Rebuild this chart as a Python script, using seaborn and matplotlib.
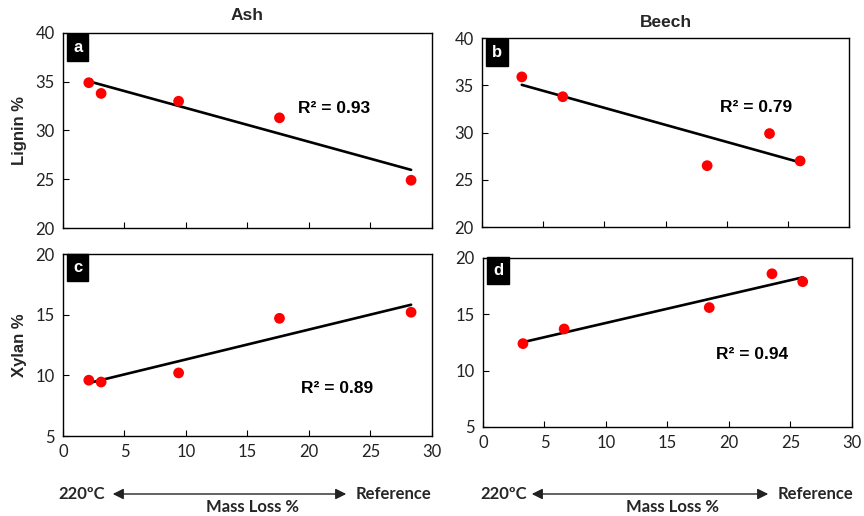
import numpy as np
import pandas as pd
import matplotlib
matplotlib.use("Agg")
import matplotlib.pyplot as plt
import seaborn as sns

# ---- data ----
ash_mass_loss = [2.1, 3.1, 9.4, 17.6, 28.3]
ash_lignin = [34.9, 33.8, 33.0, 31.3, 24.9]
ash_xylan = [9.6, 9.45, 10.2, 14.7, 15.2]

beech_mass_loss = [3.25, 6.6, 18.4, 23.5, 26.0]
beech_lignin = [35.9, 33.8, 26.5, 29.9, 27.0]
beech_xylan = [12.4, 13.7, 15.6, 18.6, 17.9]

r2_labels = {"a": "R² = 0.93", "b": "R² = 0.79", "c": "R² = 0.89", "d": "R² = 0.94"}
col_titles = ["Ash", "Beech"]
row_labels = ["Lignin %", "Xylan %"]

sns.set_theme(style="white")
plt.rcParams['font.family'] = ['Liberation Sans', 'DejaVu Sans']

fig = plt.figure(figsize=(8.64, 5.16), dpi=100)

positions = {
    "a": [0.0729, 0.5581, 0.4271, 0.378],
    "b": [0.5579, 0.5600, 0.4248, 0.366],
    "c": [0.0729, 0.1550, 0.4271, 0.3527],
    "d": [0.5590, 0.1725, 0.4270, 0.3275],
}
panels = {
    "a": (ash_mass_loss, ash_lignin, (20, 40), (22.0, 32.3)),
    "b": (beech_mass_loss, beech_lignin, (20, 40), (22.4, 32.7)),
    "c": (ash_mass_loss, ash_xylan, (5, 20), (22.3, 8.9)),
    "d": (beech_mass_loss, beech_xylan, (5, 20), (21.9, 11.4)),
}

tick_font = 'Lato'
axes = {}
for key, (xv, yv, ylim, r2pos) in panels.items():
    ax = fig.add_axes(positions[key])
    axes[key] = ax
    df = pd.DataFrame({"x": xv, "y": yv})
    sns.regplot(data=df, x="x", y="y", ax=ax, ci=None,
                scatter_kws=dict(color="#ff0000", s=60, edgecolor="none", zorder=3, alpha=1),
                line_kws=dict(color="black", lw=1.9, zorder=2))
    ax.set_xlim(0, 30)
    ax.set_ylim(*ylim)
    ax.set_xticks(range(0, 31, 5))
    ax.set_yticks(range(ylim[0], ylim[1] + 1, 5))
    ax.tick_params(direction="in", length=4, width=0.8, color="black",
                   labelsize=12, pad=6, bottom=True, left=True)
    for lab in ax.get_xticklabels() + ax.get_yticklabels():
        lab.set_fontfamily(tick_font)
        lab.set_color("#222222")
    for sp in ax.spines.values():
        sp.set_color("black")
        sp.set_linewidth(1.0)
    ax.set_xlabel("")
    ax.set_ylabel("")
    if key in ("a", "b"):
        ax.tick_params(labelbottom=False)
    ax.text(r2pos[0], r2pos[1], r2_labels[key], fontsize=12.5, fontweight="bold",
            ha="center", va="center", color="black")
    ax.text(0.028, 0.925, key, transform=ax.transAxes, fontsize=12, fontweight="bold",
            color="white", ha="left", va="center",
            bbox=dict(boxstyle="square,pad=0.35", facecolor="black", edgecolor="black"))

axes["a"].set_title(col_titles[0], fontsize=12.5, fontweight="bold", pad=9)
axes["b"].set_title(col_titles[1], fontsize=12.5, fontweight="bold", pad=8)
axes["a"].set_ylabel(row_labels[0], fontsize=12, fontweight="bold", labelpad=6)
axes["c"].set_ylabel(row_labels[1], fontsize=12, fontweight="bold", labelpad=6)

# bottom annotations (figure coords)
W, H = 864, 516
def fx(px):
    return px / W
def fy(py):
    return 1 - py / H

for (lx, ax0, ax1, rx, cx) in [(58, 110, 349, 356, 252), (480, 529, 771, 778, 672)]:
    fig.text(fx(lx), fy(494), "220ºC", fontsize=12, fontweight="bold", ha="left", va="center",
             family=['Lato', 'DejaVu Sans'])
    fig.text(fx(rx), fy(494), "Reference", fontsize=12, fontweight="bold", ha="left", va="center",
             family=['Lato', 'DejaVu Sans'])
    fig.text(fx(cx), fy(507), "Mass Loss %", fontsize=12, fontweight="bold", ha="center", va="center",
             family=['Lato', 'DejaVu Sans'])
    fig.add_artist(matplotlib.patches.FancyArrowPatch(
        (fx(ax0), fy(494)), (fx(ax1), fy(494)), transform=fig.transFigure,
        arrowstyle="<|-|>", mutation_scale=16, lw=1.0, color="#222222"))

fig.savefig("out.png", dpi=100)
